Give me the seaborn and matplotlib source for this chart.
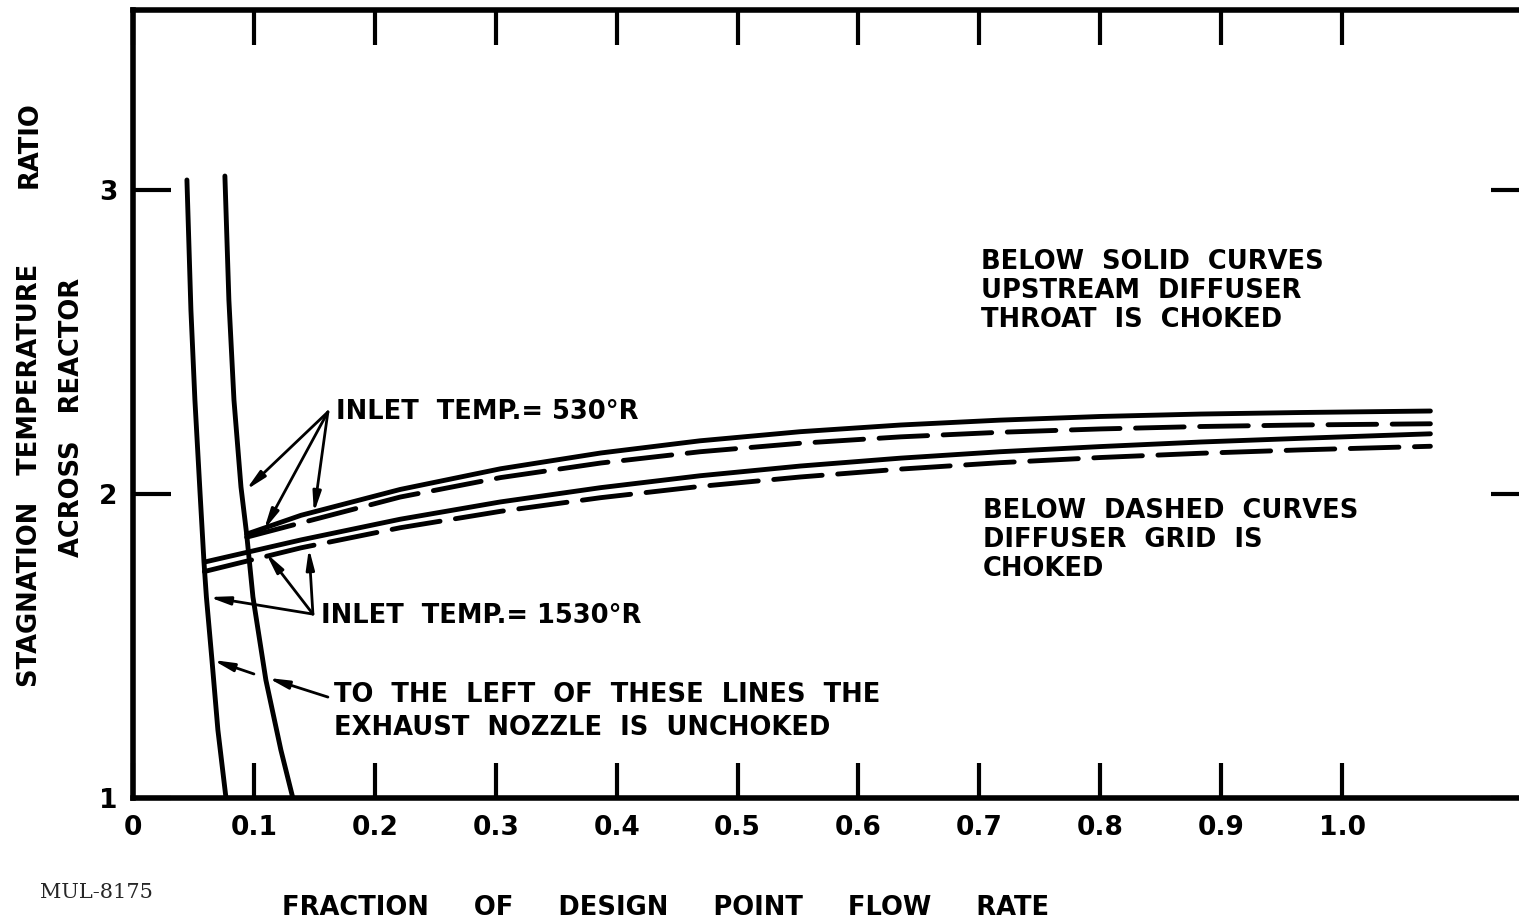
import numpy as np
import pandas as pd
import seaborn as sns
import matplotlib.pyplot as plt

flow_530 = [0.094, 0.139, 0.221, 0.304, 0.387, 0.469, 0.552, 0.635, 0.717, 0.800, 0.883, 0.965, 1.073]
solid_530 = [1.868, 1.930, 2.015, 2.083, 2.135, 2.175, 2.205, 2.227, 2.243, 2.255, 2.263, 2.268, 2.273]
dashed_530 = [1.858, 1.905, 1.990, 2.054, 2.102, 2.139, 2.167, 2.188, 2.203, 2.214, 2.222, 2.227, 2.231]

flow_1530 = [0.059, 0.139, 0.221, 0.304, 0.387, 0.469, 0.552, 0.635, 0.717, 0.800, 0.883, 0.965, 1.073]
solid_1530 = [1.776, 1.849, 1.917, 1.974, 2.021, 2.060, 2.092, 2.118, 2.139, 2.156, 2.171, 2.183, 2.198]
dashed_1530 = [1.745, 1.823, 1.889, 1.943, 1.988, 2.025, 2.056, 2.082, 2.103, 2.120, 2.134, 2.145, 2.157]

# exhaust nozzle unchoked boundaries
nozzle_left_x = [0.0446, 0.0479, 0.0512, 0.0554, 0.0587, 0.0607, 0.0653, 0.0702, 0.0769]
nozzle_left_y = [3.033, 2.605, 2.309, 2.007, 1.776, 1.661, 1.454, 1.224, 1.000]
nozzle_right_x = [0.0760, 0.0793, 0.0835, 0.0893, 0.0940, 0.0992, 0.1099, 0.1223, 0.1322]
nozzle_right_y = [3.046, 2.638, 2.309, 2.023, 1.868, 1.661, 1.388, 1.158, 1.000]

x_ticks = [0, 0.1, 0.2, 0.3, 0.4, 0.5, 0.6, 0.7, 0.8, 0.9, 1.0]
x_labels = ['0', '0.1', '0.2', '0.3', '0.4', '0.5', '0.6', '0.7', '0.8', '0.9', '1.0']
y_ticks = [1, 2, 3]
y_labels = ['1', '2', '3']

sns.set_style('ticks')
plt.rcParams['font.family'] = ['DejaVu Sans']

fig = plt.figure(figsize=(15.19, 9.23), dpi=100)
ax = fig.add_axes([133 / 1519, 1 - 798 / 923, (1528 - 133) / 1519, (798 - 10) / 923])

dash = (0, (10, 3.2))
line_kw = dict(color='black', lw=3.5, estimator=None, sort=False,
               solid_capstyle='round', dash_capstyle='round', ax=ax)

sns.lineplot(x=flow_530, y=solid_530, **line_kw)
sns.lineplot(x=flow_530, y=dashed_530, linestyle=dash, **line_kw)
sns.lineplot(x=flow_1530, y=solid_1530, **line_kw)
sns.lineplot(x=flow_1530, y=dashed_1530, linestyle=dash, **line_kw)
sns.lineplot(x=nozzle_left_x, y=nozzle_left_y, **line_kw)
sns.lineplot(x=nozzle_right_x, y=nozzle_right_y, **line_kw)

ax.set_xlim(0, (1528 - 132) / 1210)
ax.set_ylim(1, 1 + (798 - 10) / 304)
ax.set_xticks(x_ticks)
ax.set_xticklabels(x_labels, fontweight='bold')
ax.set_yticks(y_ticks)
ax.set_yticklabels(y_labels, fontweight='bold')
ax.tick_params(axis='x', direction='in', length=25, width=3, top=True, labelsize=19, pad=12,
               colors='black')
ax.tick_params(axis='y', direction='in', length=27, width=3, right=True, labelsize=19, pad=11,
               colors='black')
for s in ax.spines.values():
    s.set_linewidth(4)
    s.set_color('black')
ax.set_xlabel('')
ax.set_ylabel('')

txt = dict(fontsize=18.5, fontweight='bold', color='black')
arrow = dict(arrowstyle='-|>,head_length=0.6,head_width=0.12', lw=2, color='black',
             shrinkA=0, shrinkB=0, mutation_scale=20)

# 530 R
ax.text(0.1678, 2.270, 'INLET  TEMP.= 530°R', va='center', ha='left', **txt)
for tgt in [(0.0934, 2.013), (0.1083, 1.882), (0.1496, 1.9375)]:
    ax.annotate('', xy=tgt, xytext=(0.1612, 2.270), arrowprops=arrow)

# 1530 R
ax.text(0.1554, 1.599, 'INLET  TEMP.= 1530°R', va='center', ha='left', **txt)
for tgt in [(0.0628, 1.661), (0.1099, 1.806), (0.1455, 1.822)]:
    ax.annotate('', xy=tgt, xytext=(0.1488, 1.605), arrowprops=arrow)

ax.text(0.1661, 1.339, 'TO  THE  LEFT  OF  THESE  LINES  THE', va='center', ha='left', **txt)
ax.text(0.1661, 1.230, 'EXHAUST  NOZZLE  IS  UNCHOKED', va='center', ha='left', **txt)
ax.annotate('', xy=(0.1116, 1.395), xytext=(0.1612, 1.332), arrowprops=arrow)
ax.annotate('', xy=(0.0661, 1.454), xytext=(0.1000, 1.408), arrowprops=arrow)

ax.text(0.701, 2.668, 'BELOW  SOLID  CURVES\nUPSTREAM  DIFFUSER\nTHROAT  IS  CHOKED',
        va='center', ha='left', linespacing=1.17, **txt)
ax.text(0.703, 1.849, 'BELOW  DASHED  CURVES\nDIFFUSER  GRID  IS\nCHOKED',
        va='center', ha='left', linespacing=1.17, **txt)

# axis titles
fig.text(30 / 1519, 1 - 475 / 923, 'STAGNATION   TEMPERATURE', rotation=90,
         ha='center', va='center', **txt)
fig.text(30 / 1519, 1 - 145 / 923, 'RATIO', rotation=90, ha='center', va='center', **txt)
fig.text(72 / 1519, 1 - 417 / 923, 'ACROSS   REACTOR', rotation=90,
         ha='center', va='center', **txt)
fig.text(666 / 1519, 1 - 908 / 923, 'FRACTION     OF     DESIGN     POINT     FLOW     RATE',
         ha='center', va='center', **txt)
fig.text(40 / 1519, 1 - 893 / 923, 'MUL-8175', ha='left', va='center',
         fontsize=15, family='DejaVu Serif')

fig.savefig('out.png', dpi=100)
